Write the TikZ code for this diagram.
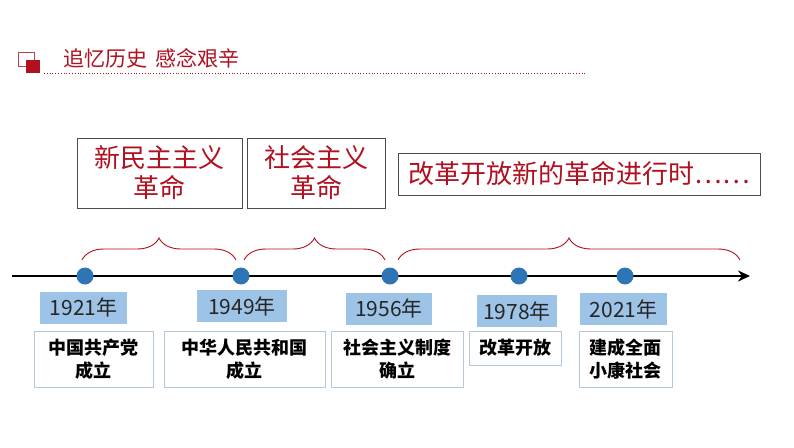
\documentclass[tikz,border=0pt]{standalone}
\usepackage{fontspec}
\setmainfont{Noto Sans CJK SC}
\usetikzlibrary{positioning,decorations.pathreplacing,arrows.meta}
\definecolor{darkred}{HTML}{B01020}
\definecolor{dotblue}{HTML}{2E75B6}
\definecolor{yearblue}{HTML}{9DC3E6}
\definecolor{edgegrey}{HTML}{B4C7DC}
\tikzset{
	era/.style={draw=black!70, text=darkred, font=\fontsize{26}{30}\selectfont, align=center, inner sep=2pt},
	yearbox/.style={fill=yearblue, font=\fontsize{21}{24}\selectfont, text=black!85, minimum height=32, inner sep=2pt},
	eventbox/.style={draw=edgegrey, font=\bfseries\fontsize{18}{23}\selectfont, align=center, minimum height=56},
	dot/.style={circle, fill=dotblue, minimum size=17, inner sep=0pt},
	period/.style={draw=darkred, line width=0.9pt, decorate, decoration={brace, amplitude=22pt, aspect=0.5}},
}
\begin{document}
\begin{tikzpicture}[x=1pt, y=-1pt]
	\useasboundingbox (0,0) rectangle (794,447);
	% header
	\draw[darkred!80, line width=0.6pt] (18,52) rectangle (34,66);
	\fill[darkred] (26,60) rectangle (40,73);
	\node[anchor=west, text=darkred, font=\fontsize{21}{24}\selectfont] (title) at (60,58) {追忆历史\hspace{0.4em}感念艰辛};
	\draw[darkred, dotted, line width=0.8pt] (44,73) -- (586,73);
	% eras
	\node[era, minimum width=165, minimum height=70] (newdem) at (159.5,173) {新民主主义\\革命};
	\node[era, minimum width=138, minimum height=70] (social) at (316,173) {社会主义\\革命};
	\node[era, minimum width=362, minimum height=42] (reform) at (579,174) {改革开放新的革命进行时……};
	% axis
	\coordinate (start) at (12,276);
	\coordinate (end) at (750,276);
	\draw[line width=2.5pt, -{Stealth[length=12pt, width=11pt]}] (start) -- (end);
	\node[dot] (d1921) at (85,276) {};
	\node[dot] (d1949) at (241,276) {};
	\node[dot] (d1956) at (390,276) {};
	\node[dot] (d1978) at (519,276) {};
	\node[dot] (d2021) at (625,276) {};
	% braces
	\draw[period] (82,260) -- (236,260);
	\draw[period] (244,260) -- (385,260);
	\draw[period] (398,260) -- (740,260);
	% years
	\node[yearbox, minimum width=87] (y1921) at (83.5,307.5) {1921年};
	\node[yearbox, minimum width=90] (y1949) at (242,306) {1949年};
	\node[yearbox, minimum width=86] (y1956) at (389,308.5) {1956年};
	\node[yearbox, minimum width=80] (y1978) at (517,311) {1978年};
	\node[yearbox, minimum width=87] (y2021) at (623.5,309) {2021年};
	% events
	\node[eventbox, minimum width=119] (e1921) at (93.5,359) {中国共产党\\成立};
	\node[eventbox, minimum width=161] (e1949) at (244.5,359) {中华人民共和国\\成立};
	\node[eventbox, minimum width=132] (e1956) at (397,359) {社会主义制度\\确立};
	\node[eventbox, minimum width=92, minimum height=34] (e1978) at (515,348) {改革开放};
	\node[eventbox, minimum width=93] (e2021) at (625.5,359) {建成全面\\小康社会};
\end{tikzpicture}
\end{document}
